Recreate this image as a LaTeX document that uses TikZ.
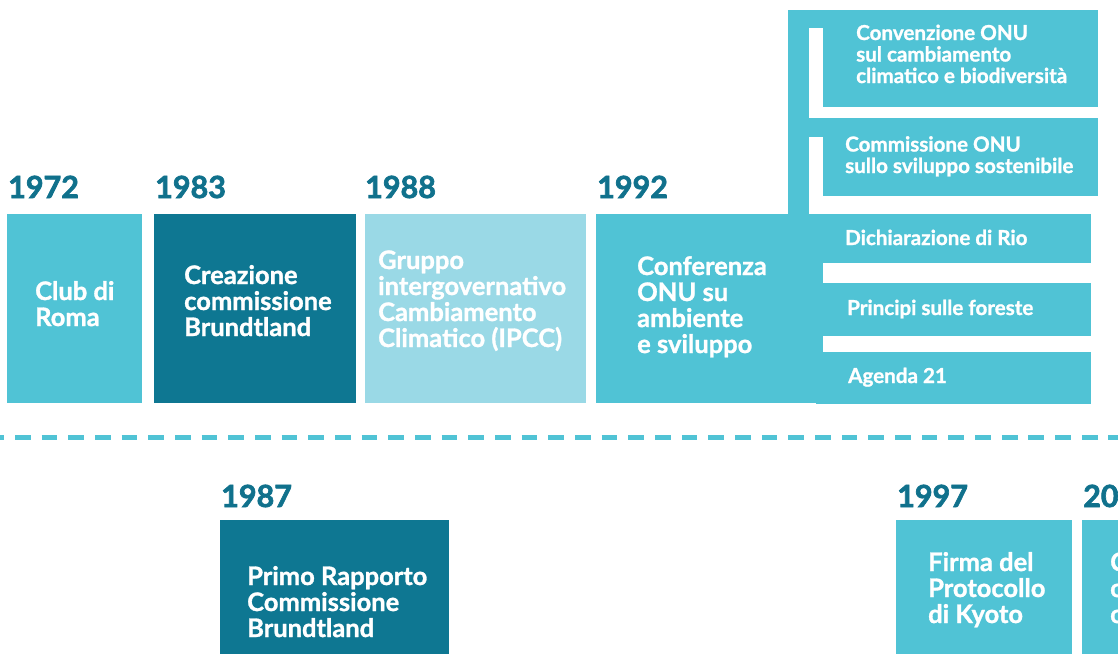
\documentclass[tikz,border=0pt]{standalone}
\usepackage{fontspec}
\setmainfont{Lato}[BoldFeatures={FakeBold=1.2}]
\newfontfamily\yearfont{Lato}[BoldFeatures={FakeBold=2.2}]
\definecolor{tealA}{HTML}{50C3D5}
\definecolor{tealB}{HTML}{0E7792}
\definecolor{tealC}{HTML}{9AD9E6}
\definecolor{yearc}{HTML}{10718C}
\begin{document}
\begin{tikzpicture}[x=1pt,y=-1pt,
  year/.style={anchor=base west, inner sep=0pt, text=yearc, font=\yearfont\fontsize{30.5}{31}\selectfont\bfseries},
  big/.style={anchor=base west, inner sep=0pt, text=white, align=left, font=\fontsize{25.5}{26}\selectfont\bfseries},
  small/.style={anchor=base west, inner sep=0pt, text=white, align=left, font=\fontsize{20.6}{21.5}\selectfont\bfseries},
  gap/.style={fill=white}]
\useasboundingbox (0,0) rectangle (1118,653);
\clip (0,0) rectangle (1118,653);
% top row boxes
\fill[tealA] (7,214) rectangle (142,403);
\fill[tealB] (154,214) rectangle (356,403);
\fill[tealC] (365,214) rectangle (586,403);
% 1992 compound shape
\fill[tealA] (788,10) rectangle (1098,196);
\fill[tealA] (788,196) rectangle (809,214);
\fill[gap] (809,28) rectangle (823,118);
\fill[gap] (809,107) rectangle (1098,118);
\fill[gap] (809,137) rectangle (823,196);
\fill[tealA] (596,214) rectangle (1091,263);
\fill[tealA] (596,214) rectangle (816,403);
\fill[tealA] (816,214) rectangle (823,404);
\fill[tealA] (823,283) rectangle (1091,336);
\fill[tealA] (823,352) rectangle (1091,404);
% dashed line
\coordinate (dl) at (-11.67,437.5);
\coordinate (dr) at (1130,437.5);
\draw[tealA, line width=5pt, dash pattern=on 15.7pt off 10.97pt] (dl) -- (dr);
% bottom boxes
\fill[tealB] (220,520) rectangle (449,660);
\fill[tealA] (896,520) rectangle (1072,660);
\fill[tealA] (1082,520) rectangle (1130,660);
% years
\node[year] (y1972) at (8,198) {1972};
\node[year] (y1983) at (155,198) {1983};
\node[year] (y1988) at (365,198) {1988};
\node[year] (y1992) at (597,198) {1992};
\node[year] (y1987) at (221,507) {1987};
\node[year] (y1997) at (897,507) {1997};
\node[year] (y20) at (1083,507) {20};
% texts (anchor = baseline of last line)
\node[big] (t1972) at (35,326) {Club di\\Roma};
\node[big] (t1983) at (184,336) {Creazione\\commissione\\Brundtland};
\node[big] (t1988) at (378,347) {Gruppo\\intergovernativo\\Cambiamento\\Climatico (IPCC)};
\node[big] (t1992) at (637,353) {Conferenza\\ONU su\\ambiente\\e sviluppo};
\node[small] (tconv) at (856,83) {Convenzione ONU\\sul cambiamento\\climatico e biodiversità};
\node[small] (tcomm) at (845,173) {Commissione ONU\\sullo sviluppo sostenibile};
\node[small] (tdich) at (845,245) {Dichiarazione di Rio};
\node[small] (tprin) at (847,315) {Principi sulle foreste};
\node[small] (tagen) at (848,383) {Agenda 21};
\node[big] (t1987) at (247,637) {Primo Rapporto\\Commissione\\Brundtland};
\node[big] (t1997) at (928,623) {Firma del\\Protocollo\\di Kyoto};
\node[big] (t20) at (1110,623) {C\\c\\c};
\end{tikzpicture}
\end{document}
